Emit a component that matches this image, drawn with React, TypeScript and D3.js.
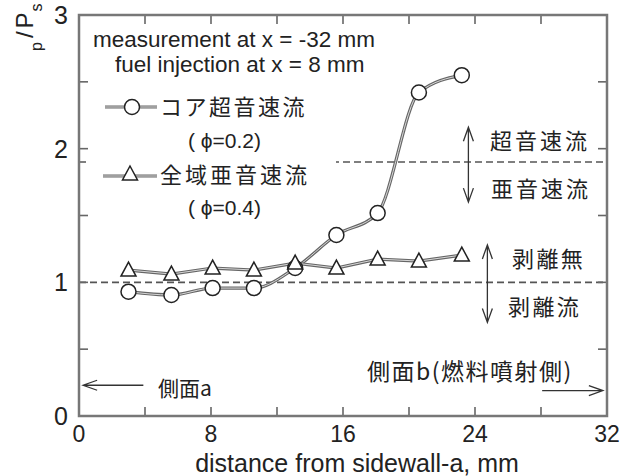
import React from "react";
import * as d3 from "d3";

const positions = [3.0, 5.6, 8.1, 10.6, 13.1, 15.6, 18.1, 20.6, 23.2];
const coreSupersonic = [0.93, 0.905, 0.957, 0.957, 1.107, 1.354, 1.518, 2.42, 2.55];
const fullSubsonic = [1.092, 1.062, 1.107, 1.092, 1.144, 1.107, 1.174, 1.159, 1.204];
const xTicks = [0, 4, 8, 12, 16, 20, 24, 28, 32];
const xLabels = [0, 8, 16, 24, 32];
const yTicks = [0, 0.5, 1, 1.5, 2, 2.5, 3];
const yLabels = [0, 1, 2, 3];
const refLines = [1.9, 1.0];

const W = 635, H = 476;
const L = 79, R = 607, T = 15, B = 416;
const LAT = "'Liberation Sans', Arial, 'DejaVu Sans', sans-serif";
const JP = "'Noto Sans CJK JP', 'Noto Sans CJK SC', sans-serif";

export default function App() {
  const x = d3.scaleLinear().domain([0, 32]).range([L, R]);
  const y = d3.scaleLinear().domain([0, 3]).range([B, T]);

  const coreLine = d3.line<number>().x((_, i) => x(positions[i])).y((d) => y(d)).curve(d3.curveMonotoneX)(coreSupersonic) || "";
  const subLine = d3.line<number>().x((_, i) => x(positions[i])).y((d) => y(d))(fullSubsonic) || "";

  const tri = "M0,-8 L7.5,6 L-7.5,6 Z";

  const vArrow = (xv: number, y1v: number, y2v: number) => {
    const px = x(xv), a = y(y1v), b = y(y2v);
    return `M${px},${a} L${px},${b} M${px - 5},${a + 14} L${px},${a} L${px + 5},${a + 14} M${px - 5},${b - 14} L${px},${b} L${px + 5},${b - 14}`;
  };
  const hArrow = (x1v: number, x2v: number, yv: number) => {
    const a = x(x1v), b = x(x2v), py = y(yv);
    const dir = b > a ? -1 : 1;
    return `M${a},${py} L${b},${py} M${b + dir * 14},${py - 5} L${b},${py} L${b + dir * 14},${py + 5}`;
  };

  const dataStroke = (d: string) => (
    <g>
      <path d={d} fill="none" stroke="#666" strokeWidth={3.2} />
      <path d={d} fill="none" stroke="#d8d8d8" strokeWidth={1} />
    </g>
  );

  return (
    <svg width={W} height={H} style={{ position: "absolute", left: 0, top: 0, background: "#fff" }}>
      <rect width={W} height={H} fill="#fff" />
      {refLines.map((v) => (
        <line key={v} x1={x(0)} x2={x(32)} y1={y(v)} y2={y(v)} stroke="#555" strokeWidth={1.6} strokeDasharray="7 4" />
      ))}
      <rect x={90} y={20} width={246} height={205} fill="#fff" />

      {xTicks.map((t) => (
        <g key={"xt" + t} stroke="#666" strokeWidth={1.6}>
          <line x1={x(t)} x2={x(t)} y1={B} y2={B - 9} />
          <line x1={x(t)} x2={x(t)} y1={T} y2={T + 9} />
        </g>
      ))}
      {yTicks.map((t) => (
        <g key={"yt" + t} stroke="#666" strokeWidth={1.6}>
          <line x1={L} x2={L + 9} y1={y(t)} y2={y(t)} />
          <line x1={R} x2={R - 9} y1={y(t)} y2={y(t)} />
        </g>
      ))}
      <rect x={L} y={T} width={R - L} height={B - T} fill="none" stroke="#777" strokeWidth={2.5} />

      {xLabels.map((t) => (
        <text key={"xl" + t} x={x(t)} y={442} textAnchor="middle" fontFamily={LAT} fontSize={23} fill="#222">{t}</text>
      ))}
      {yLabels.map((t) => (
        <text key={"yl" + t} x={68} y={y(t) + 9} textAnchor="end" fontFamily={LAT} fontSize={25} fill="#222">{t}</text>
      ))}
      <text x={357} y={472} textAnchor="middle" fontFamily={LAT} fontSize={25} fill="#222">distance from sidewall-a, mm</text>
      <text transform="translate(33,51) rotate(-90)" fontFamily={LAT} fontSize={24} fill="#222">
        <tspan fontSize={16} dy={9}>p</tspan>
        <tspan dy={-9} dx={4}>/</tspan>
        <tspan dx={3}>P</tspan>
        <tspan fontSize={16} dy={9} dx={1}>s</tspan>
      </text>

      {dataStroke(coreLine)}
      {dataStroke(subLine)}
      {coreSupersonic.map((v, i) => (
        <circle key={"c" + i} cx={x(positions[i])} cy={y(v)} r={7.5} fill="#fff" stroke="#222" strokeWidth={1.5} />
      ))}
      {fullSubsonic.map((v, i) => (
        <path key={"t" + i} d={tri} transform={`translate(${x(positions[i])},${y(v)})`} fill="#fff" stroke="#222" strokeWidth={1.5} />
      ))}

      <text x={93} y={47} fontFamily={LAT} fontSize={22.5} fill="#222">measurement at x = -32 mm</text>
      <text x={115} y={72} fontFamily={LAT} fontSize={22.5} fill="#222">fuel injection at x = 8 mm</text>
      {dataStroke("M105,107 L157,107")}
      <circle cx={132} cy={107} r={7.5} fill="#fff" stroke="#222" strokeWidth={1.5} />
      <text x={160} y={115} fontFamily={JP} fontSize={22} letterSpacing={2.5} fill="#222">コア超音速流</text>
      <text x={188} y={148} fontFamily={LAT} fontSize={21} fill="#222">( ϕ=0.2)</text>
      {dataStroke("M103,176 L157,176")}
      <path d={tri} transform="translate(130,174)" fill="#fff" stroke="#222" strokeWidth={1.5} />
      <text x={160} y={183} fontFamily={JP} fontSize={22} letterSpacing={3} fill="#222">全域亜音速流</text>
      <text x={188} y={215} fontFamily={LAT} fontSize={21} fill="#222">( ϕ=0.4)</text>

      <path d={vArrow(23.6, 2.16, 1.6)} fill="none" stroke="#333" strokeWidth={1.3} />
      <path d={vArrow(24.75, 1.28, 0.7)} fill="none" stroke="#333" strokeWidth={1.3} />
      <text x={490} y={149} fontFamily={JP} fontSize={22} letterSpacing={3} fill="#222">超音速流</text>
      <text x={491} y={197} fontFamily={JP} fontSize={22} letterSpacing={3} fill="#222">亜音速流</text>
      <text x={512} y={267} fontFamily={JP} fontSize={22} letterSpacing={2.4} fill="#222">剥離無</text>
      <text x={508} y={315} fontFamily={JP} fontSize={22} letterSpacing={2.4} fill="#222">剥離流</text>

      <path d={hArrow(3.9, 0.25, 0.23)} fill="none" stroke="#333" strokeWidth={1.3} />
      <text x={158} y={396} fontFamily={JP} fontSize={21} fill="#222">側面a</text>
      <text x={367} y={380} fontFamily={JP} fontSize={23} letterSpacing={1.5} fill="#222">側面b(燃料噴射側)</text>
      <path d={hArrow(28.07, 31.75, 0.19)} fill="none" stroke="#333" strokeWidth={1.3} />
    </svg>
  );
}
